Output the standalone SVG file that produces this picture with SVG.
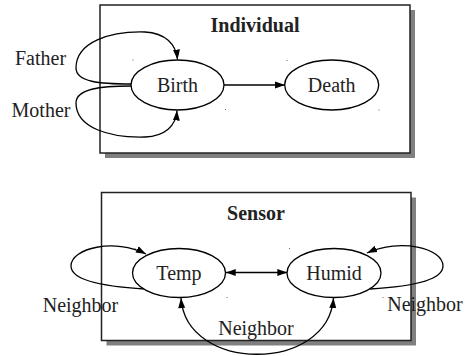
<svg xmlns="http://www.w3.org/2000/svg" width="468" height="356" viewBox="0 0 468 356">
<style>
.box{fill:#fff;stroke:#222;stroke-width:1.5}
.shadow{fill:#808080}
.node{fill:#fff;stroke:#000;stroke-width:1.3}
.edge{fill:none;stroke:#000;stroke-width:1.3}
.t{font-family:"Liberation Serif","Times New Roman",serif;font-size:20px;fill:#222;text-anchor:middle}
.title{font-weight:bold}
.dot{fill:#666}
</style>
<defs>
<marker id="ah" markerUnits="userSpaceOnUse" markerWidth="11" markerHeight="8" refX="10" refY="4" orient="auto">
<path d="M0,0.5 L10,4 L0,7.5 Z" fill="#000"/>
</marker>
<marker id="as" markerUnits="userSpaceOnUse" markerWidth="11" markerHeight="8" refX="0" refY="4" orient="auto">
<path d="M10,0.5 L0,4 L10,7.5 Z" fill="#000"/>
</marker>
</defs>
<g id="cluster-individual">
<rect class="shadow" x="105" y="10" width="310" height="148"/>
<rect class="box" x="100" y="5" width="310" height="148"/>
<text class="t title" x="255" y="31.5">Individual</text>
</g>
<g id="cluster-sensor">
<rect class="shadow" x="106.5" y="197.5" width="309.5" height="148"/>
<rect class="box" x="101.5" y="192.5" width="309.5" height="148"/>
<text class="t title" x="256" y="220">Sensor</text>
</g>
<g id="edges">
<path class="edge" d="M224,85 L285,85" marker-end="url(#ah)"/>
<path class="edge" d="M131,84 C100,84 76,82 76,68 C76,42 110,31 145,32 C165,33 176,44 177.5,59.5" marker-end="url(#ah)"/>
<path class="edge" d="M131,86 C100,86 76,89 76,103 C76,128 110,138 145,137 C165,136 176,126 177,110.5" marker-end="url(#ah)"/>
<path class="edge" d="M225.7,272.5 L287.3,272.5" marker-start="url(#as)" marker-end="url(#ah)"/>
<path class="edge" d="M145,289 C110,287 71,282 71,266 C71,248 115,238 146,254" marker-end="url(#ah)"/>
<path class="edge" d="M370,289 C405,287 443,282 443,266 C443,248 400,238 367,253" marker-end="url(#ah)"/>
<path class="edge" d="M181,298 C186,373 328,373 333.5,298" marker-start="url(#as)" marker-end="url(#ah)"/>
</g>
<g id="node-birth">
<ellipse class="node" cx="177.5" cy="85" rx="46.5" ry="25"/>
<text class="t" x="177.5" y="92">Birth</text>
</g>
<g id="node-death">
<ellipse class="node" cx="331.7" cy="85" rx="47" ry="25"/>
<text class="t" x="331.7" y="92">Death</text>
</g>
<g id="node-temp">
<ellipse class="node" cx="179" cy="273" rx="46.5" ry="24.5"/>
<text class="t" x="179" y="280">Temp</text>
</g>
<g id="node-humid">
<ellipse class="node" cx="334" cy="273" rx="47" ry="24.5"/>
<text class="t" x="334" y="280">Humid</text>
</g>
<g id="labels">
<text class="t" x="40.5" y="65">Father</text>
<text class="t" x="41" y="117">Mother</text>
<text class="t" x="80.5" y="311.5">Neighbor</text>
<text class="t" x="425" y="311">Neighbor</text>
<text class="t" x="256" y="335">Neighbor</text>
</g>
<g id="dots">
<rect class="dot" x="132.5" y="59.5" width="1" height="1"/>
<rect class="dot" x="225" y="109" width="1" height="1"/>
<rect class="dot" x="286.5" y="60" width="1" height="1"/>
<rect class="dot" x="378.5" y="109.5" width="1" height="1"/>
<rect class="dot" x="134.5" y="248" width="1" height="1"/>
<rect class="dot" x="226.5" y="297" width="1" height="1"/>
<rect class="dot" x="289" y="248" width="1" height="1"/>
<rect class="dot" x="382.5" y="297" width="1" height="1"/>
</g>
</svg>
